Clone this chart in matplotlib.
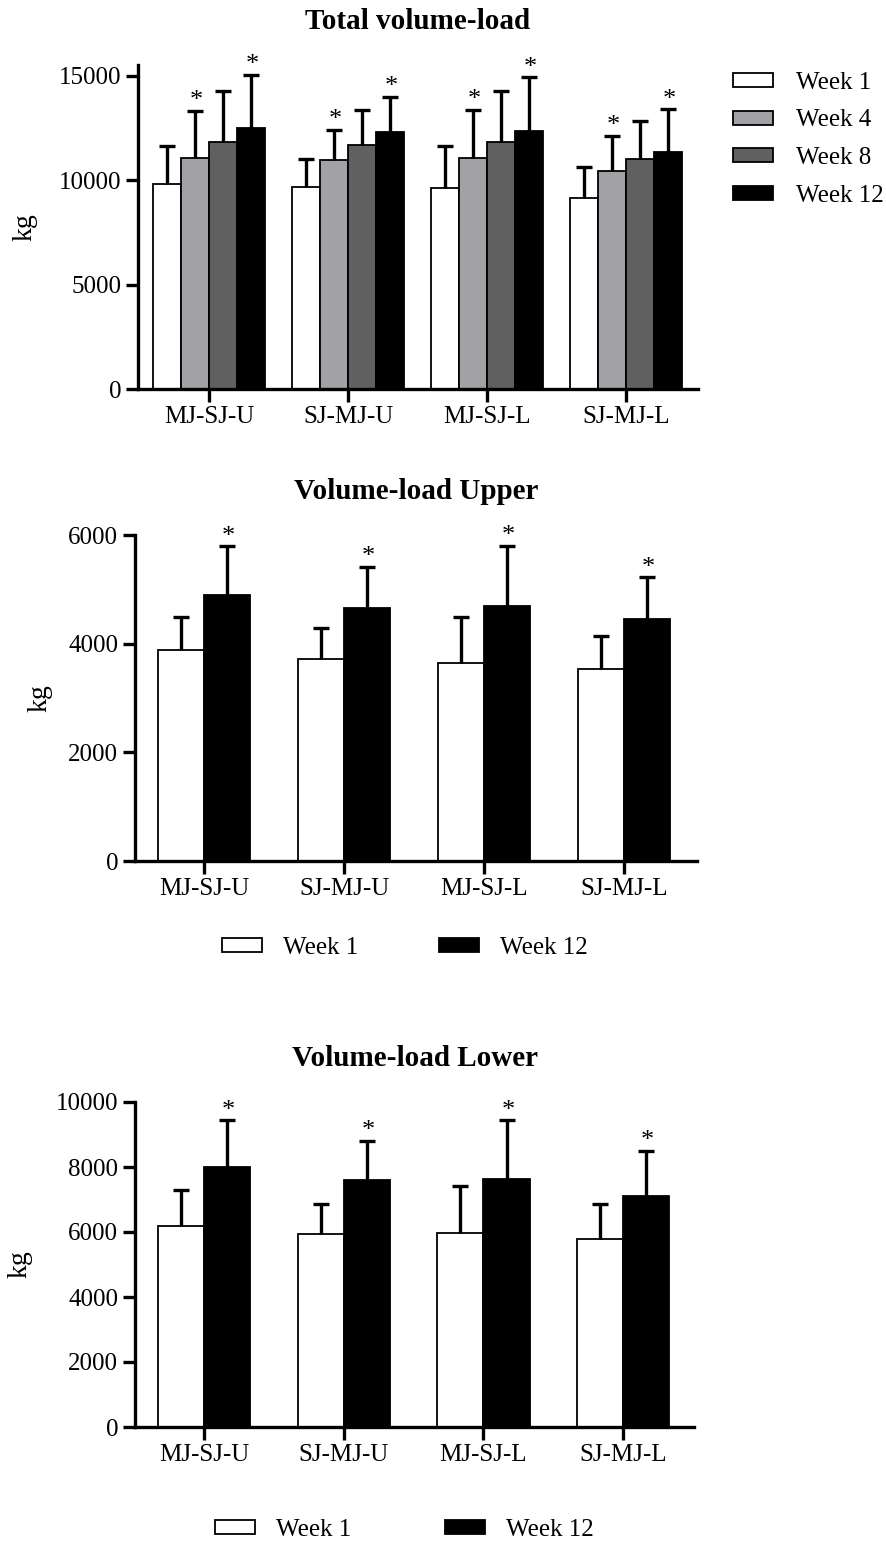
import numpy as np
import matplotlib.pyplot as plt

plt.rcParams['font.family'] = ['Liberation Serif', 'DejaVu Serif']

groups = ["MJ-SJ-U", "SJ-MJ-U", "MJ-SJ-L", "SJ-MJ-L"]
weeks_total = ["Week 1", "Week 4", "Week 8", "Week 12"]
weeks_pair = ["Week 1", "Week 12"]

# Total volume-load (mean, SD) per week
total_w1 = [9800, 9700, 9650, 9150]
total_w1_sd = [1850, 1300, 2010, 1500]
total_w4 = [11070, 10970, 11050, 10460]
total_w4_sd = [2250, 1440, 2320, 1680]
total_w8 = [11840, 11690, 11850, 11000]
total_w8_sd = [2440, 1680, 2430, 1860]
total_w12 = [12500, 12300, 12380, 11370]
total_w12_sd = [2545, 1700, 2550, 2030]
total_stars = [False, True, False, True]

# Volume-load upper
upper_w1 = [3880, 3720, 3640, 3530]
upper_w1_sd = [620, 560, 860, 610]
upper_w12 = [4900, 4650, 4690, 4450]
upper_w12_sd = [890, 770, 1110, 770]

# Volume-load lower
lower_w1 = [6170, 5950, 5980, 5800]
lower_w1_sd = [1110, 920, 1440, 1050]
lower_w12 = [7990, 7610, 7640, 7100]
lower_w12_sd = [1450, 1190, 1800, 1390]
pair_stars = [False, True]

col4 = ["white", "#a2a2a6", "#606060", "black"]
col2 = ["white", "black"]

W, H = 886, 1542
fig = plt.figure(figsize=(W / 100, H / 100), dpi=100)


def box(l, r, b, t):
    return [l / W, 1 - b / H, (r - l) / W, (b - t) / H]


def panel(ax, means, sds, labels, colors, stars, width, title, ymax, yticks, xlim):
    x = np.arange(len(groups))
    n = len(means)
    for i in range(n):
        off = (i - (n - 1) / 2) * width
        ax.bar(x + off, means[i], width, color=colors[i], edgecolor="black",
               linewidth=1.3, label=labels[i], zorder=2)
        eb = ax.errorbar(x + off, means[i], yerr=[np.zeros(len(x)), sds[i]], fmt="none",
                         ecolor="black", elinewidth=2.4, capsize=6, capthick=2.4, zorder=3)
        # hide the lower cap (only upward SD is drawn)
        eb[1][0].set_visible(False)
        if stars[i]:
            for xi, m, s in zip(x + off, means[i], sds[i]):
                ax.annotate("*", (xi, m + s), xytext=(1, -1), textcoords="offset points",
                            ha="center", va="bottom", fontsize=19)
    ax.set_xlim(*xlim)
    ax.set_ylim(0, ymax)
    ax.set_yticks(yticks)
    ax.set_xticks(x)
    ax.set_xticklabels(groups)
    ax.spines["top"].set_visible(False)
    ax.spines["right"].set_visible(False)
    for s in ["left", "bottom"]:
        ax.spines[s].set_linewidth(2.4)
    ax.tick_params(direction="out", length=9, width=2.4, labelsize=18, pad=3)
    ax.set_ylabel("kg", fontsize=20)
    ax.set_title(title, fontsize=21, fontweight="bold", pad=26)


ax1 = fig.add_axes(box(138, 698, 389, 65))
panel(ax1, [total_w1, total_w4, total_w8, total_w12],
      [total_w1_sd, total_w4_sd, total_w8_sd, total_w12_sd],
      weeks_total, col4, total_stars, 0.2, "Total volume-load", 15525,
      [0, 5000, 10000, 15000], (-0.511, 3.518))
ax1.yaxis.set_label_coords(-0.18, 0.5)
ax1.legend(loc="upper left", bbox_to_anchor=(733 / W, 1 - 72 / H),
           bbox_transform=fig.transFigure, frameon=False, fontsize=18,
           handlelength=1.6, handleheight=0.5, handletextpad=0.9,
           labelspacing=0.62, borderpad=0, borderaxespad=0)

ax2 = fig.add_axes(box(135, 697, 861, 535))
panel(ax2, [upper_w1, upper_w12], [upper_w1_sd, upper_w12_sd],
      weeks_pair, col2, pair_stars, 0.33, "Volume-load Upper", 6000,
      [0, 2000, 4000, 6000], (-0.493, 3.521))
ax2.yaxis.set_label_coords(-0.146, 0.5)
ax2.legend(loc="center left", bbox_to_anchor=(222 / W, 1 - 948 / H),
           bbox_transform=fig.transFigure, frameon=False, fontsize=18, ncol=2,
           handlelength=1.6, handleheight=0.5, handletextpad=0.85,
           columnspacing=3.2, borderpad=0, borderaxespad=0)

ax3 = fig.add_axes(box(135, 694, 1427, 1102))
panel(ax3, [lower_w1, lower_w12], [lower_w1_sd, lower_w12_sd],
      weeks_pair, col2, pair_stars, 0.33, "Volume-load Lower", 10000,
      [0, 2000, 4000, 6000, 8000, 10000], (-0.494, 3.507))
ax3.yaxis.set_label_coords(-0.184, 0.5)
ax3.legend(loc="center left", bbox_to_anchor=(215 / W, 1 - 1530 / H),
           bbox_transform=fig.transFigure, frameon=False, fontsize=18, ncol=2,
           handlelength=1.6, handleheight=0.5, handletextpad=0.85,
           columnspacing=3.75, borderpad=0, borderaxespad=0)

fig.savefig("out.png", dpi=100)
